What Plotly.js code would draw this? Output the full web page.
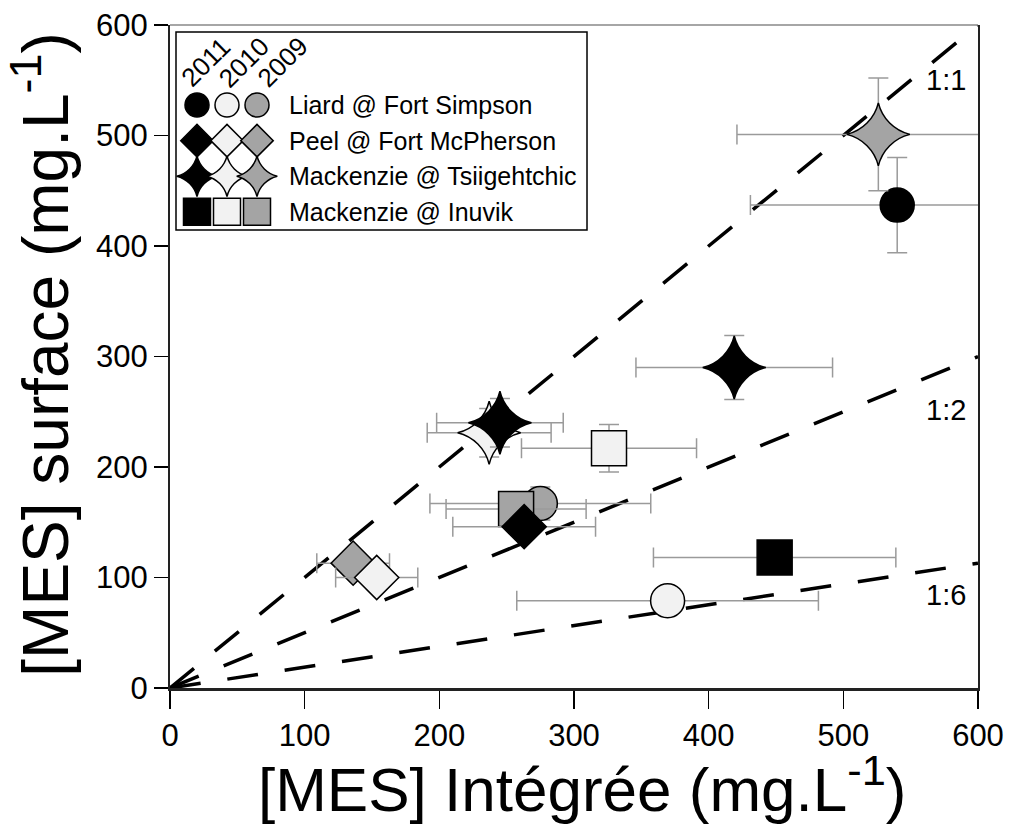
<!DOCTYPE html>
<html><head><meta charset="utf-8">
<script src="https://cdn.plot.ly/plotly-3.0.1.min.js"></script>
<style>html,body{margin:0;padding:0;background:#fff}</style>
</head><body>
<div id="chart" style="width:1011px;height:833px"></div>
<script>
// ---- data ----
const sites = ['Liard @ Fort Simpson', 'Peel @ Fort McPherson', 'Mackenzie @ Tsiigehtchic', 'Mackenzie @ Inuvik'];
const years = ['2011', '2010', '2009'];
const siteSymbols = ['circle', 'diamond', 'star-diamond', 'square'];
const yearColors = ['#000000', '#f2f2f2', '#a4a4a4'];

// observations (listed in drawing order)
const obsSite = [0, 2, 0, 3, 2, 3, 0, 3, 1, 1, 1, 2, 2];
const obsYear = [0, 2, 1, 0, 0, 1, 2, 2, 0, 2, 1, 1, 0];
const obsX    = [540, 526, 369.5, 449, 419, 326, 275, 257, 263, 136, 153.5, 237, 245];
const obsY    = [437, 501, 79, 118, 290, 217, 167, 162, 146, 113, 100, 231, 240];
const obsXerr = [109, 105, 112, 90, 73, 65, 82, 52, 53, 27, 30.5, 46, 47];
const obsYerr = [43, 51, 0, 0, 29, 21.5, 15, 0, 0, 0, 0, 22, 22];

// ratio reference lines
const ratioLabels = ['1:1', '1:2', '1:6'];
const ratioXEnd = 600;
const ratioYEnd = [600, 300, 113];
const ratioLabelX = [576, 576, 576];
const ratioLabelY = [550, 252, 84];

const xTicks = [0, 100, 200, 300, 400, 500, 600];
const yTicks = [0, 100, 200, 300, 400, 500, 600];
const xTitle = '[MES] Intégrée (mg.L<sup>-1</sup>)';
const yTitle = '[MES] surface (mg.L<sup>-1</sup>)';

// ---- styles ----
const FONT = 'Liberation Sans, Arial, Helvetica, sans-serif';
const mainSize = {'circle': 34, 'diamond': 34, 'star-diamond': 45, 'square': 35};
const legSize = {'circle': 24, 'diamond': 25, 'star-diamond': 29, 'square': 27};

const traces = [];
ratioLabels.forEach((lab, i) => {
  traces.push({
    type: 'scatter', mode: 'lines', x: [0, ratioXEnd], y: [0, ratioYEnd[i]],
    line: {color: '#000', width: 3.5, dash: '31px,27px'},
    hoverinfo: 'skip', showlegend: false
  });
});

obsX.forEach((xv, k) => {
  const sym = siteSymbols[obsSite[k]];
  traces.push({
    type: 'scatter', mode: 'markers', x: [xv], y: [obsY[k]],
    name: sites[obsSite[k]] + ' ' + years[obsYear[k]],
    marker: {symbol: sym, size: mainSize[sym], color: yearColors[obsYear[k]],
             line: {color: '#000', width: 1.5}},
    error_x: {type: 'data', array: [obsXerr[k]], visible: true, color: '#9a9a9a', thickness: 1.5, width: 10},
    error_y: {type: 'data', array: [obsYerr[k]], visible: obsYerr[k] > 0, color: '#9a9a9a', thickness: 1.5, width: 10},
    showlegend: false, hoverinfo: 'skip'
  });
});

// legend drawn on an overlay axis: x = year index, y = site index
sites.forEach((s, i) => {
  const sym = siteSymbols[i];
  traces.push({
    type: 'scatter', mode: 'markers', xaxis: 'x2', yaxis: 'y2',
    x: years.map((y, j) => j), y: years.map(() => i),
    marker: {symbol: sym, size: legSize[sym], color: yearColors,
             line: {color: '#000', width: 1.5}},
    showlegend: false, hoverinfo: 'skip', cliponaxis: false
  });
});

const annotations = [];
ratioLabels.forEach((lab, i) => {
  annotations.push({x: ratioLabelX[i], y: ratioLabelY[i], xref: 'x', yref: 'y', text: lab,
    showarrow: false, font: {family: FONT, size: 29, color: '#000'}});
});
sites.forEach((s, i) => {
  annotations.push({x: 3.0, y: i, xref: 'x2', yref: 'y2', text: s, xanchor: 'left', showarrow: false,
    font: {family: FONT, size: 25, color: '#000'}});
});
years.forEach((yr, j) => {
  annotations.push({x: 0.3 + 1.28 * j, y: -1.2, xref: 'x2', yref: 'y2', text: yr, textangle: -45,
    showarrow: false, font: {family: FONT, size: 26, color: '#000'}});
});
// axis titles
annotations.push({x: 0.511, y: -0.146, xref: 'paper', yref: 'paper', text: xTitle,
  xanchor: 'center', yanchor: 'middle', showarrow: false, font: {family: FONT, size: 62, color: '#000'}});
annotations.push({x: -0.159, y: 0.502, xref: 'paper', yref: 'paper', text: yTitle, textangle: -90,
  xanchor: 'center', yanchor: 'middle', showarrow: false, font: {family: FONT, size: 64, color: '#000'}});

const layout = {
  width: 1011, height: 833,
  margin: {l: 170, r: 33, t: 25, b: 145},
  paper_bgcolor: '#fff', plot_bgcolor: '#fff',
  showlegend: false,
  font: {family: FONT, color: '#000'},
  xaxis: {
    range: [0, 600], tickvals: xTicks, ticktext: xTicks.map(String),
    ticks: 'outside', ticklen: 18, tickwidth: 1.5, tickcolor: '#000',
    showline: true, linewidth: 2.5, linecolor: '#222', showgrid: false, zeroline: false,
    tickfont: {family: FONT, size: 31, color: '#000'},
    automargin: false
  },
  yaxis: {
    range: [0, 600], tickvals: yTicks, ticktext: yTicks.map(String),
    ticks: 'outside', ticklen: 14, tickwidth: 1.5, tickcolor: '#000',
    showline: true, linewidth: 2, linecolor: '#222', mirror: true, showgrid: false, zeroline: false,
    tickfont: {family: FONT, size: 31, color: '#000'},
    automargin: false
  },
  xaxis2: {domain: [0.00743, 0.5161], range: [-0.7, 13.0], anchor: 'y2', visible: false, fixedrange: true},
  yaxis2: {domain: [0.6908, 0.9894], range: [3.51, -2.05], anchor: 'x2', visible: false, fixedrange: true},
  shapes: [
    {type: 'rect', xref: 'x2 domain', yref: 'y2 domain', x0: 0, x1: 1, y0: 0, y1: 1,
     line: {color: '#000', width: 1.5}, fillcolor: 'rgba(255,255,255,0)', layer: 'above'},
    {type: 'line', xref: 'paper', yref: 'paper', x0: 0, x1: 1, y0: 1, y1: 1,
     line: {color: '#888', width: 1.5}}
  ],
  annotations: annotations
};

Plotly.newPlot('chart', traces, layout, {displayModeBar: false, staticPlot: true});
</script>
</body></html>
